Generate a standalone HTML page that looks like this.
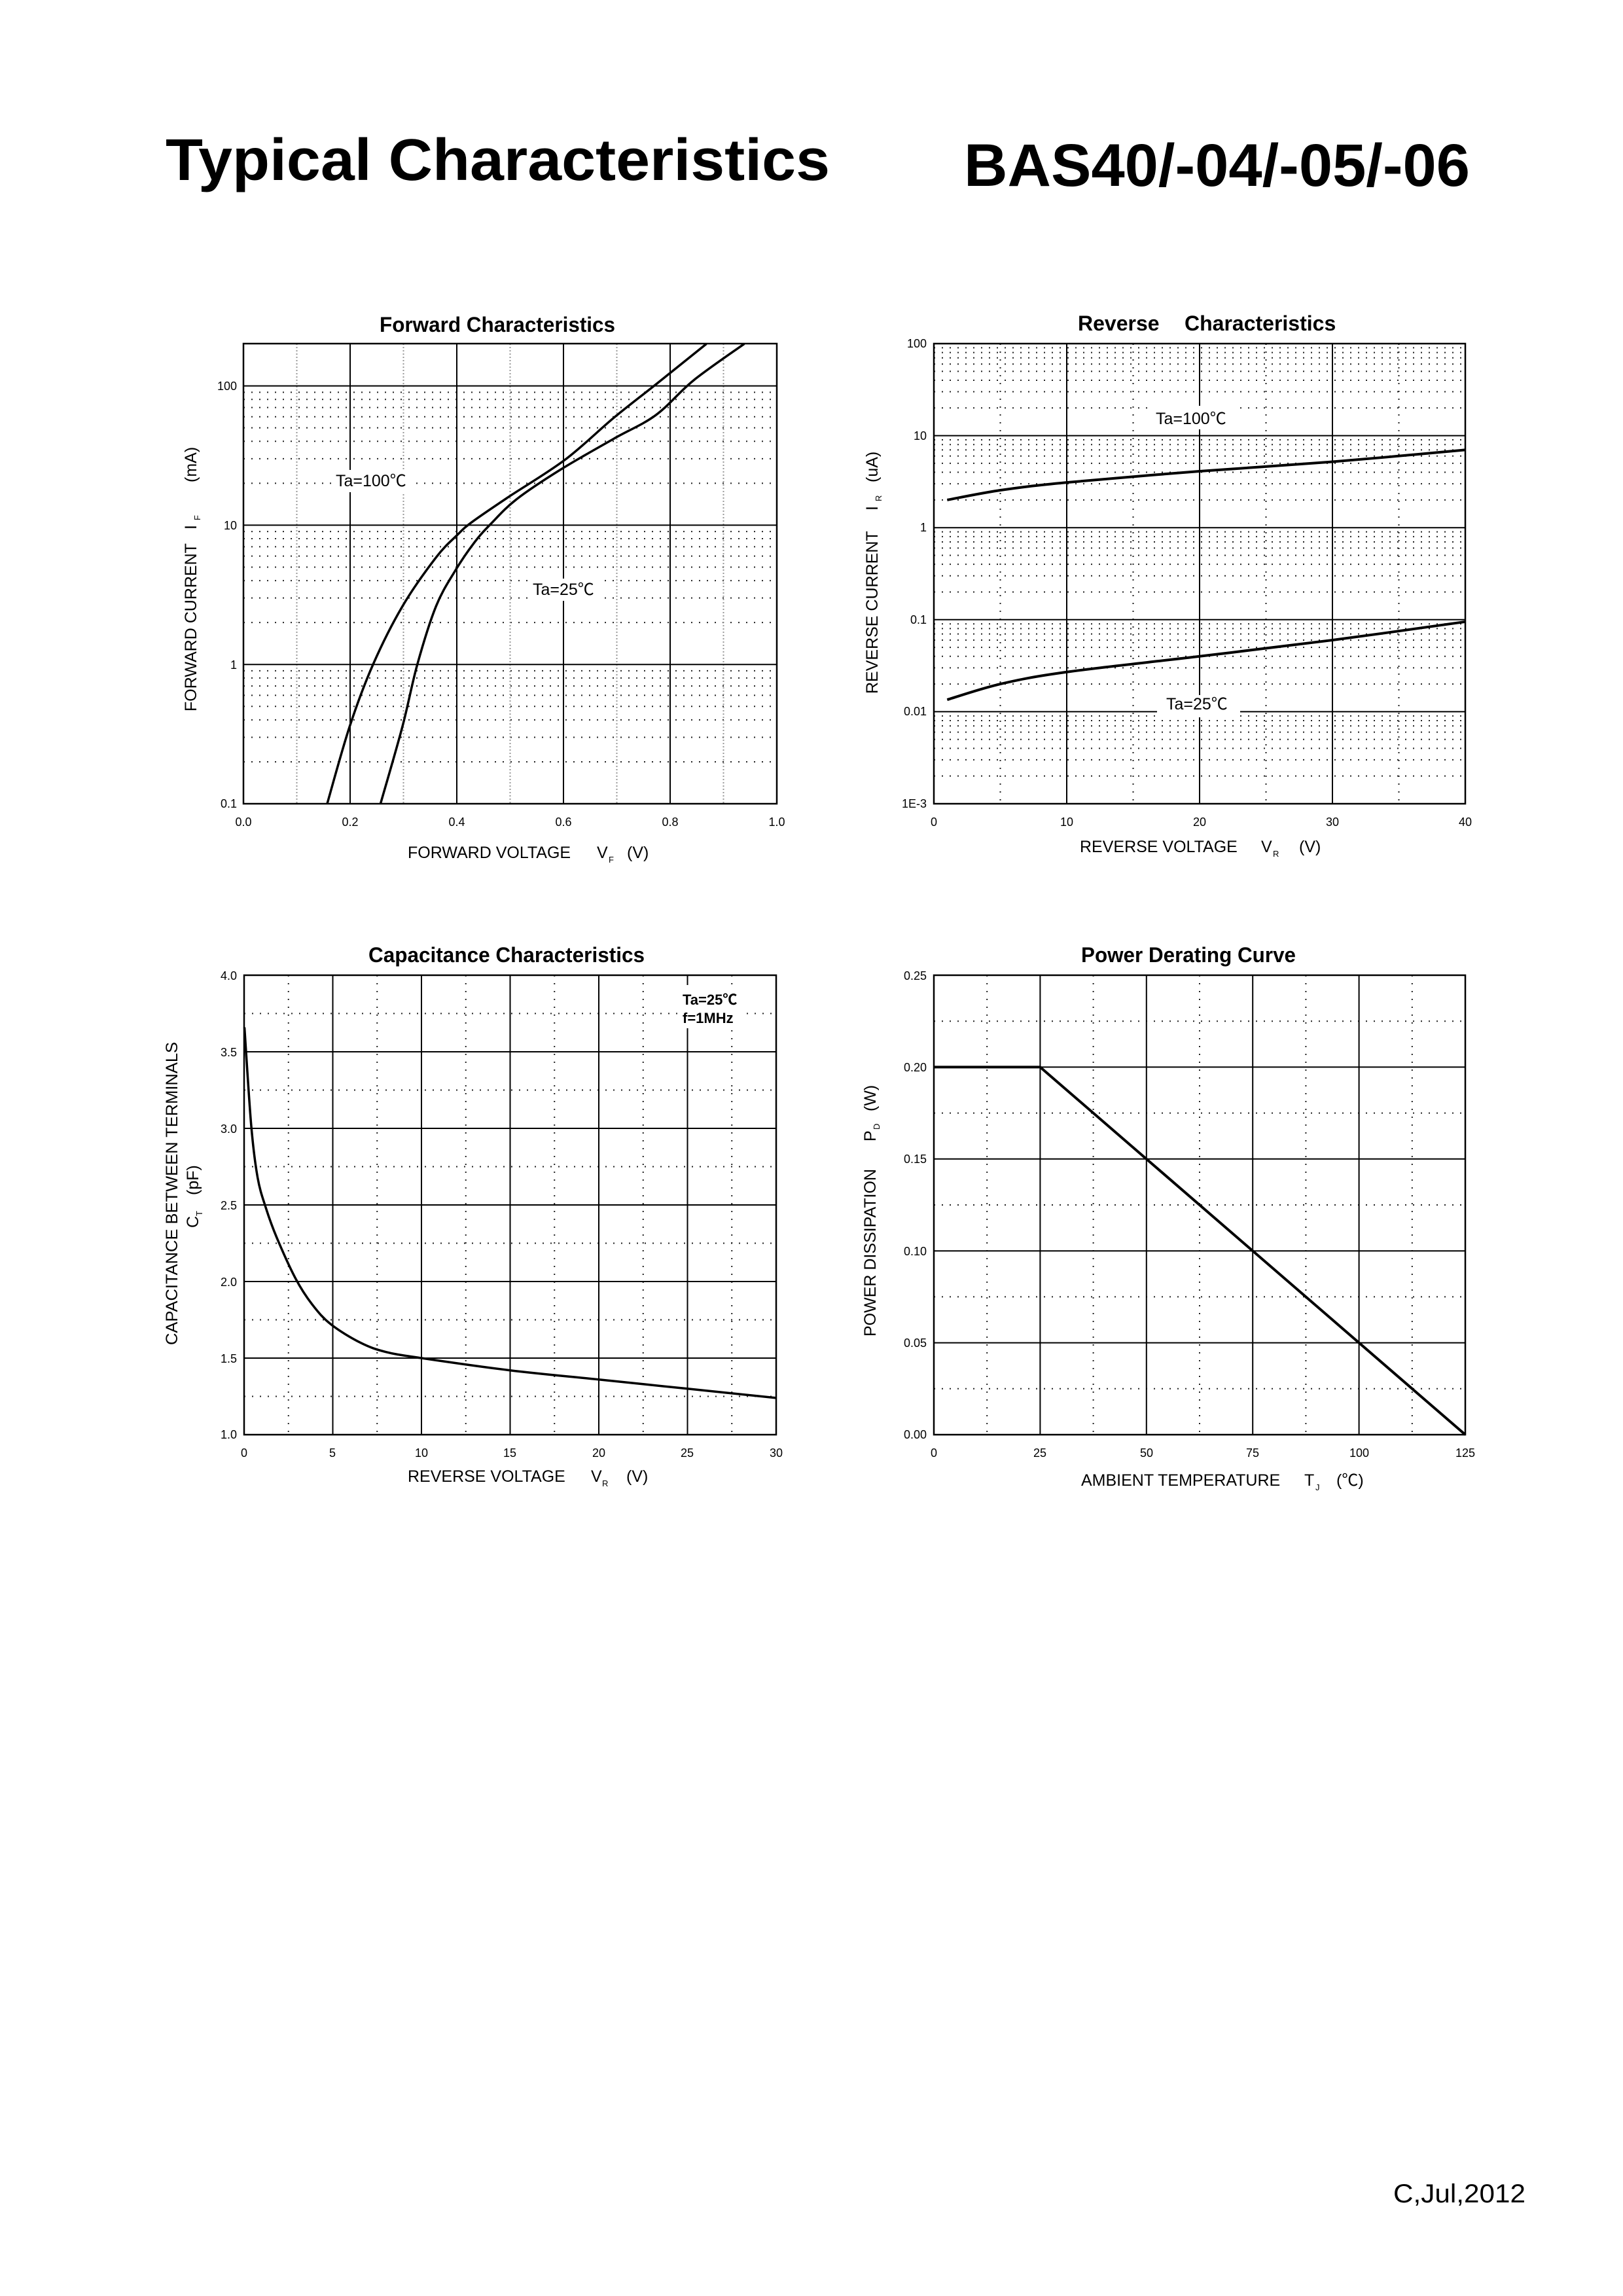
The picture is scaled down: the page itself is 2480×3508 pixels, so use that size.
<!DOCTYPE html>
<html><head><meta charset="utf-8"><style>
html,body{margin:0;padding:0;background:#fff}
svg{display:block}
text{font-family:"Liberation Sans","Noto Sans CJK SC",sans-serif;fill:#000}
.t{font-size:18px}
.ax{font-size:25px}
.sub{font-size:13px}
.ti{font-size:32px;font-weight:bold}
</style></head><body>
<svg id="s" width="2480" height="3508" viewBox="0 0 2480 3508" xmlns="http://www.w3.org/2000/svg">
<rect width="2480" height="3508" fill="#fff"/>
<g id="g"></g>
<text x="253" y="275" font-size="90" font-weight="bold" textLength="1015" lengthAdjust="spacingAndGlyphs">Typical Characteristics</text>
<text x="1473" y="284" font-size="92" font-weight="bold" textLength="773" lengthAdjust="spacingAndGlyphs">BAS40/-04/-05/-06</text>
<text x="2129" y="3365" font-size="40" textLength="202" lengthAdjust="spacingAndGlyphs">C,Jul,2012</text>

<text class="ti" x="580" y="507" textLength="360" lengthAdjust="spacingAndGlyphs">Forward Characteristics</text>
<g class="t" text-anchor="end">
<text x="362" y="596">100</text><text x="362" y="809">10</text><text x="362" y="1022">1</text><text x="362" y="1234">0.1</text>
</g>
<g class="t" text-anchor="middle">
<text x="372" y="1262">0.0</text><text x="535" y="1262">0.2</text><text x="698" y="1262">0.4</text><text x="861" y="1262">0.6</text><text x="1024" y="1262">0.8</text><text x="1187" y="1262">1.0</text>
</g>
<text class="ax" x="623" y="1311">FORWARD VOLTAGE</text><text class="ax" x="912" y="1311">V</text><text class="sub" x="930" y="1318">F</text><text class="ax" x="958" y="1311">(V)</text>
<g transform="translate(300,1087) rotate(-90)"><text class="ax" x="0" y="0">FORWARD CURRENT</text><text class="ax" x="278" y="0">I</text><text class="sub" x="292" y="6">F</text><text class="ax" x="350" y="0">(mA)</text></g>
<rect x="508" y="718" width="120" height="34" fill="#fff"/>
<text class="ax" x="513" y="743" font-size="24">Ta=100℃</text>
<rect x="809" y="884" width="105" height="34" fill="#fff"/>
<text class="ax" x="814" y="909" font-size="24">Ta=25℃</text>

<text class="ti" x="1647" y="505">Reverse</text><text class="ti" x="1810" y="505">Characteristics</text>
<g class="t" text-anchor="end">
<text x="1416" y="531">100</text><text x="1416" y="672">10</text><text x="1416" y="812">1</text><text x="1416" y="953">0.1</text><text x="1416" y="1093">0.01</text><text x="1416" y="1234">1E-3</text>
</g>
<g class="t" text-anchor="middle">
<text x="1427" y="1262">0</text><text x="1630" y="1262">10</text><text x="1833" y="1262">20</text><text x="2036" y="1262">30</text><text x="2239" y="1262">40</text>
</g>
<text class="ax" x="1650" y="1302">REVERSE VOLTAGE</text><text class="ax" x="1927" y="1302">V</text><text class="sub" x="1945" y="1309">R</text><text class="ax" x="1985" y="1302">(V)</text>
<g transform="translate(1341,1060) rotate(-90)"><text class="ax" x="0" y="0">REVERSE CURRENT</text><text class="ax" x="280" y="0">I</text><text class="sub" x="294" y="6">R</text><text class="ax" x="323" y="0">(uA)</text></g>
<rect x="1760" y="620" width="125" height="36" fill="#fff"/>
<text class="ax" x="1766" y="648" font-size="24">Ta=100℃</text>
<rect x="1768" y="1062" width="127" height="34" fill="#fff"/>
<text class="ax" x="1782" y="1084" font-size="24">Ta=25℃</text>

<text class="ti" x="563" y="1470" textLength="422" lengthAdjust="spacingAndGlyphs">Capacitance Characteristics</text>
<g class="t" text-anchor="end">
<text x="362" y="1497">4.0</text><text x="362" y="1614">3.5</text><text x="362" y="1731">3.0</text><text x="362" y="1848">2.5</text><text x="362" y="1965">2.0</text><text x="362" y="2082">1.5</text><text x="362" y="2198">1.0</text>
</g>
<g class="t" text-anchor="middle">
<text x="373" y="2226">0</text><text x="508" y="2226">5</text><text x="644" y="2226">10</text><text x="779" y="2226">15</text><text x="915" y="2226">20</text><text x="1050" y="2226">25</text><text x="1186" y="2226">30</text>
</g>
<text class="ax" x="623" y="2264">REVERSE VOLTAGE</text><text class="ax" x="903" y="2264">V</text><text class="sub" x="920" y="2271">R</text><text class="ax" x="957" y="2264">(V)</text>
<g transform="translate(271,2055) rotate(-90)"><text class="ax" x="0" y="0" textLength="463" lengthAdjust="spacingAndGlyphs">CAPACITANCE BETWEEN TERMINALS</text></g>
<g transform="translate(303,1876) rotate(-90)"><text class="ax" x="0" y="0">C</text><text class="sub" x="18" y="6">T</text><text class="ax" x="50" y="0">(pF)</text></g>
<rect x="1036" y="1505" width="96" height="66" fill="#fff"/>
<text x="1043" y="1535" font-size="22" font-weight="bold">Ta=25℃</text>
<text x="1043" y="1563" font-size="22" font-weight="bold">f=1MHz</text>

<text class="ti" x="1652" y="1470" textLength="328" lengthAdjust="spacingAndGlyphs">Power Derating Curve</text>
<g class="t" text-anchor="end">
<text x="1416" y="1497">0.25</text><text x="1416" y="1637">0.20</text><text x="1416" y="1777">0.15</text><text x="1416" y="1918">0.10</text><text x="1416" y="2058">0.05</text><text x="1416" y="2198">0.00</text>
</g>
<g class="t" text-anchor="middle">
<text x="1427" y="2226">0</text><text x="1589" y="2226">25</text><text x="1752" y="2226">50</text><text x="1914" y="2226">75</text><text x="2077" y="2226">100</text><text x="2239" y="2226">125</text>
</g>
<text class="ax" x="1652" y="2270">AMBIENT TEMPERATURE</text><text class="ax" x="1993" y="2270">T</text><text class="sub" x="2010" y="2277">J</text><text class="ax" x="2042" y="2270">(℃)</text>
<g transform="translate(1338,2042) rotate(-90)"><text class="ax" x="0" y="0">POWER DISSIPATION</text><text class="ax" x="298" y="0">P</text><text class="sub" x="316" y="6">D</text><text class="ax" x="344" y="0">(W)</text></g>
</svg>
<script>
(function(){
var NS="http://www.w3.org/2000/svg",g=document.getElementById('g');
var front=document.createElementNS(NS,'g');
function el(n,a,p){var e=document.createElementNS(NS,n);for(var k in a)e.setAttribute(k,a[k]);(p||g).appendChild(e);return e;}
function hl(x1,x2,y,dot){el('line',{x1:x1,x2:x2,y1:y,y2:y,stroke:dot?'#222':'#000','stroke-width':2,'stroke-dasharray':dot?'2 10':''});}
function vl(x,y1,y2,dot,light){el('line',{x1:x,x2:x,y1:y1,y2:y2,stroke:light?'#999':(dot?'#222':'#000'),'stroke-width':2,'stroke-dasharray':dot?(light?'2 3':'2 10'):''});}
function poly(pts,w){el('polyline',{points:pts.map(function(p){return p[0].toFixed(1)+','+p[1].toFixed(1)}).join(' '),fill:'none',stroke:'#000','stroke-width':w||3.5,'stroke-linejoin':'round'},front);}
function smooth(pts,w){var d='M'+pts[0][0]+','+pts[0][1];for(var i=0;i<pts.length-1;i++){var p0=pts[i-1]||pts[i],p1=pts[i],p2=pts[i+1],p3=pts[i+2]||p2;
d+=' C'+(p1[0]+(p2[0]-p0[0])/6)+','+(p1[1]+(p2[1]-p0[1])/6)+' '+(p2[0]-(p3[0]-p1[0])/6)+','+(p2[1]-(p3[1]-p1[1])/6)+' '+p2[0]+','+p2[1];}
el('path',{d:d,fill:'none',stroke:'#000','stroke-width':w||3.5},front);}
function log10(v){return Math.log(v)/Math.LN10;}
(function(){var L=372,R=1187,T=525,B=1228,dec=212.8;function Y(l){return B-(l+1)*dec;}function X(v){return L+(R-L)*v;}
for(var d=-1;d<=2;d++){for(var m=2;m<=9;m++){var y=Y(d+log10(m));if(y>T+2)hl(L,R,y,1);}}
[0.1,0.3,0.5,0.7,0.9].forEach(function(v){vl(X(v),T,B,1,1);});
[0.2,0.4,0.6,0.8].forEach(function(v){vl(X(v),T,B);});
[0,1,2].forEach(function(d){hl(L,R,Y(d));});
el('rect',{x:L,y:T,width:R-L,height:B-T,fill:'none',stroke:'#000','stroke-width':2.5});
var c1=[[.157,-1],[.199,-.447],[.243,0],[.298,.417],[.361,.768],[.401,.93],[.429,1.024],[.496,1.2],[.603,1.47],[.694,1.77],[.773,2.01],[.868,2.302]];
var c2=[[.257,-1],[.298,-.447],[.326,0],[.361,.417],[.397,.673],[.433,.876],[.464,1.01],[.512,1.186],[.595,1.40],[.694,1.62],[.773,1.79],[.844,2.04],[.939,2.302]];
smooth(c1.map(function(p){return [X(p[0]),Y(p[1])]}));smooth(c2.map(function(p){return [X(p[0]),Y(p[1])]}));})();
(function(){var L=1427,R=2239,T=525,B=1228,dec=140.6;function Y(l){return B-(l+3)*dec;}function X(v){return L+(R-L)*v/40;}
for(var d=-3;d<=1;d++){for(var m=2;m<=9;m++)hl(L,R,Y(d+log10(m)),1);}
[5,15,25,35].forEach(function(v){vl(X(v),T,B,1);});
[10,20,30].forEach(function(v){vl(X(v),T,B);});
[-2,-1,0,1].forEach(function(d){hl(L,R,Y(d));});
el('rect',{x:L,y:T,width:R-L,height:B-T,fill:'none',stroke:'#000','stroke-width':2.5});
var a=[[1,2],[5,2.55],[10,3.1],[20,4.1],[30,5.2],[40,7]],b=[[1,.0135],[5,.02],[10,.027],[20,.04],[30,.06],[40,.095]];
smooth(a.map(function(p){return [X(p[0]),Y(log10(p[1]))]}),4);smooth(b.map(function(p){return [X(p[0]),Y(log10(p[1]))]}),4);})();
(function(){var L=373,R=1186,T=1490,B=2192;function Y(c){return B-(c-1)/3*(B-T);}function X(v){return L+(R-L)*v/30;}
for(var c=1.25;c<4;c+=0.5)hl(L,R,Y(c),1);
for(var v=2.5;v<30;v+=5)vl(X(v),T,B,1);
for(var v=5;v<30;v+=5)vl(X(v),T,B);
for(var c=1.5;c<4;c+=0.5)hl(L,R,Y(c));
el('rect',{x:L,y:T,width:R-L,height:B-T,fill:'none',stroke:'#000','stroke-width':2.5});
var p=[[.02,3.66],[.4,3.02],[.76,2.68],[1.23,2.48],[1.83,2.29],[2.9,2.02],[3.84,1.85],[4.9,1.72],[6.57,1.60],[8,1.54],[10,1.50],[15,1.42],[20,1.36],[25,1.30],[30,1.24]];
smooth(p.map(function(q){return [X(q[0]),Y(q[1])]}));})();
(function(){var L=1427,R=2239,T=1490,B=2192;function Y(w){return B-w/0.25*(B-T);}function X(t){return L+(R-L)*t/125;}
for(var w=0.025;w<0.25;w+=0.05)hl(L,R,Y(w),1);
for(var t=12.5;t<125;t+=25)vl(X(t),T,B,1);
for(var t=25;t<125;t+=25)vl(X(t),T,B);
for(var w=0.05;w<0.25;w+=0.05)hl(L,R,Y(w));
el('rect',{x:L,y:T,width:R-L,height:B-T,fill:'none',stroke:'#000','stroke-width':2.5});
poly([[X(0),Y(.2)],[X(25),Y(.2)],[X(125),Y(0)]],4);})();
g.appendChild(front);
var s=document.getElementById('s');var kids=[].slice.call(s.children);kids.forEach(function(k){if(k!==g&&k.tagName!=='rect'||(k.tagName==='rect'&&k.getAttribute('width')!=='2480'))s.appendChild(k);});
})();
</script>
</body></html>
